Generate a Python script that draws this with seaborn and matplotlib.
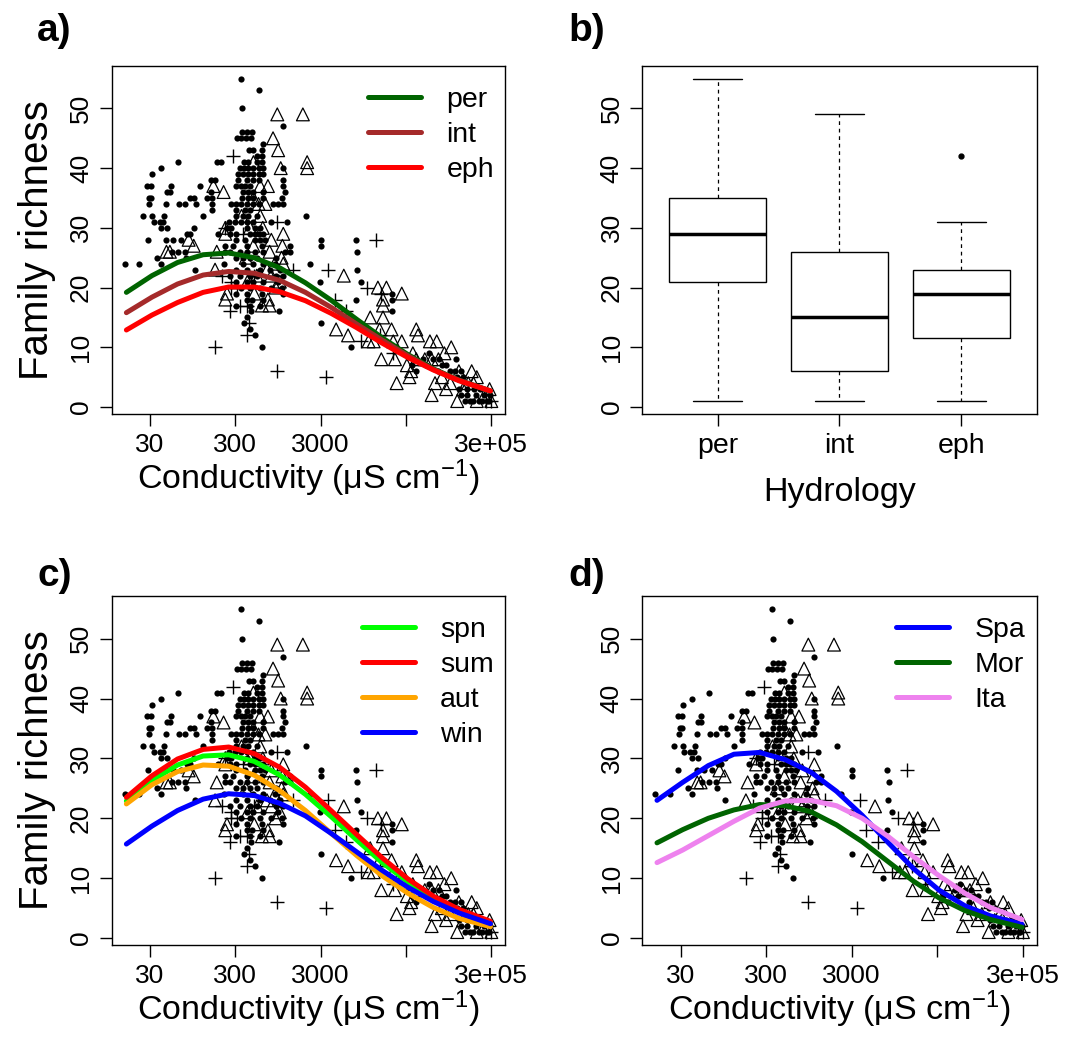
import numpy as np
import pandas as pd
import matplotlib
matplotlib.use("Agg")
import matplotlib.pyplot as plt
from matplotlib.ticker import NullLocator
import seaborn as sns

sns.set_style("white")
plt.rcParams['font.family'] = ['Liberation Sans', 'DejaVu Sans']
plt.rcParams['mathtext.fontset'] = 'custom'
plt.rcParams['mathtext.rm'] = 'Liberation Sans'
plt.rcParams['mathtext.it'] = 'Liberation Sans:italic'
plt.rcParams['mathtext.bf'] = 'Liberation Sans:bold'
for k in ['text.color', 'axes.labelcolor', 'xtick.color', 'ytick.color', 'axes.edgecolor']:
    plt.rcParams[k] = 'black'

# ---------------- data (log10 conductivity, family richness) ----------------
dot_logc = [
    2.54,
    2.75,
    2.56,
    3.04,
    2.56, 2.62, 2.67,
    2.50, 2.55, 2.60, 2.66,
    2.80,
    2.64, 2.69, 2.79,
    2.73, 2.79,
    1.81, 2.26, 2.31, 2.58, 2.63, 2.73, 2.79,
    1.61, 2.53, 2.58, 2.63, 2.69, 2.75, 2.80, 3.04,
    1.50, 2.51, 2.57, 2.63, 2.69, 2.75, 2.80,
    2.19, 2.24, 2.51, 2.61, 2.68, 2.75, 3.04,
    1.44, 1.49, 1.72, 2.06, 2.49, 2.55, 2.59, 2.65, 3.04,
    1.68, 1.71, 2.19, 2.57, 2.63, 2.69, 2.80, 3.06,
    1.47, 1.49, 1.95, 1.99, 2.14, 2.20, 2.56, 2.63, 2.69, 2.80, 3.02,
    1.46, 1.67, 1.82, 1.89, 2.02, 2.20, 2.43, 2.49, 2.55, 2.62, 2.69, 2.75, 2.92, 2.98, 3.04,
    2.20, 2.49, 2.59, 2.65,
    1.40, 1.50, 1.64, 2.10, 2.49, 2.57, 2.63, 2.73, 3.31,
    1.52, 1.59, 1.63, 2.40, 2.47, 2.55, 2.61, 2.69, 2.90, 3.08,
    1.61, 1.68, 1.99, 2.38, 2.43, 2.61, 2.71, 2.77,
    1.91, 1.95, 2.28, 2.41, 2.49, 2.65, 2.71, 2.75, 2.80,
    1.45, 1.67, 1.75, 1.84, 2.49, 2.59, 2.71, 2.77, 2.83, 3.48, 3.89,
    2.36, 2.45, 2.61, 2.79, 3.12, 3.48,
    1.73, 1.81, 1.89, 2.36, 2.41, 2.53, 2.61, 2.71, 2.80, 3.06, 3.12, 3.91,
    1.56, 1.90, 2.49, 2.57, 2.65, 2.73, 2.96,
    1.18, 1.35, 1.61, 2.34, 2.57, 2.69, 2.80, 2.94, 3.35,
    2.00, 2.49, 2.61, 2.77, 2.88, 3.00, 3.90,
    2.41, 2.53, 2.65, 2.73, 2.96, 3.04,
    2.49, 2.61, 2.69, 2.80, 2.98, 3.47, 3.95,
    2.55, 2.65, 2.77, 2.90, 3.02,
    2.49, 2.61, 2.79, 3.04, 4.31,
    2.61, 2.67, 2.80, 3.89, 4.31,
    2.49, 2.65, 2.77,
    2.66, 2.99, 4.31,
    2.61,
    2.58, 3.48,
    2.65,
    2.71,
    2.79, 3.84,
    4.75,
    4.68, 4.80, 4.87, 5.07,
    4.55, 4.72, 4.90, 4.95,
    4.60, 4.85, 5.00, 5.05, 5.12,
    5.08, 5.15,
    5.10, 5.20, 5.28, 5.35,
    5.13, 5.20, 5.30, 5.40, 5.47,
    5.17, 5.23, 5.27, 5.33, 5.37, 5.43, 5.45,
]
dot_rich = (
    [55] + [53] + [50] + [47] + [46] * 3 + [45] * 4 + [44] + [43] * 3 + [42] * 2
    + [41] * 7 + [40] * 8 + [39] * 7 + [38] * 7 + [37] * 9 + [36] * 8 + [35] * 11
    + [34] * 15 + [33] * 4 + [32] * 9 + [31] * 10 + [30] * 8 + [29] * 9 + [28] * 11
    + [27] * 6 + [26] * 12 + [25] * 7 + [24] * 9 + [23] * 7 + [22] * 6 + [21] * 7
    + [20] * 5 + [19] * 5 + [18] * 5 + [17] * 3 + [16] * 3 + [15] + [14] * 2 + [13]
    + [12] + [10] * 2 + [9] + [8] * 4 + [7] * 4 + [6] * 5 + [5] * 2 + [3] * 4
    + [2] * 5 + [1] * 7
)

tri_logc = [
    2.97, 3.27,
    2.92,
    2.98,
    3.32, 2.69,
    3.01, 3.32,
    2.22, 2.77, 2.86,
    2.34,
    2.69,
    2.75, 2.83,
    2.77, 2.55,
    2.36, 2.65, 2.80,
    2.36, 3.04,
    2.90, 1.93,
    3.03, 1.99, 2.69,
    1.67, 1.71, 2.26, 2.88,
    3.02, 2.60,
    2.94, 3.04,
    2.24, 2.85,
    2.73, 2.90, 3.75,
    3.00, 2.62,
    4.15, 4.25, 2.95,
    4.43, 2.38, 2.70,
    4.21, 2.36, 2.86,
    4.21, 2.79, 2.88,
    4.21, 4.06,
    4.17, 4.31, 3.66, 4.60,
    3.80, 4.62,
    4.04, 4.10, 4.33, 4.43, 4.76, 4.84,
    5.01,
    4.93, 4.56,
    4.19, 4.35, 4.60, 4.70, 4.78, 4.86,
    4.49,
    4.54, 5.10, 5.25,
    5.31, 4.52, 4.90,
    4.37, 4.82, 5.00, 5.21, 5.27,
    4.95, 5.15, 5.46,
    4.78, 5.40,
    5.08, 5.31, 5.48,
]
tri_rich = (
    [49] * 2 + [45] + [43] + [41] * 2 + [40] * 2 + [37] * 3 + [36] + [35] + [34] * 2
    + [32] * 2 + [30] * 3 + [29] * 2 + [28] * 2 + [27] * 3 + [26] * 4 + [25] * 2
    + [24] * 2 + [23] * 2 + [22] * 3 + [21] * 2 + [20] * 3 + [19] * 3 + [18] * 3
    + [17] * 3 + [15] * 2 + [13] * 4 + [12] * 2 + [11] * 6 + [10] + [9] * 2 + [8] * 6
    + [7] + [6] * 3 + [5] * 3 + [4] * 5 + [3] * 3 + [2] * 2 + [1] * 3
)

plus_logc = [2.45, 2.97, 2.36, 2.57, 4.13, 3.16, 3.57, 2.32, 2.70, 2.43,
             2.43, 4.02, 2.50, 4.19, 3.65, 2.53, 2.61, 2.41, 3.78, 2.64,
             2.61, 4.18, 3.95, 2.24, 4.33, 2.97, 3.54, 5.48, 5.42]
plus_rich = [42, 31, 30, 29, 28, 23, 23, 22, 22, 21,
             20, 20, 20, 19, 18, 17, 17, 16, 16, 14,
             12, 12, 11, 10, 9, 6, 5, 1, 1]

# fitted curves, read at these log10 conductivities
curve_logc = [1.2, 1.5, 1.8, 2.1, 2.4, 2.7, 3.0, 3.3, 3.6, 3.9, 4.2, 4.5, 4.8, 5.1, 5.47]
per_fit = [19.2, 22.0, 24.2, 25.5, 25.8, 25.0, 23.3, 20.8, 17.9, 14.7, 11.6, 8.8, 6.4, 4.5, 2.7]
int_fit = [15.8, 18.4, 20.6, 22.1, 22.7, 22.4, 21.2, 19.2, 16.7, 13.9, 11.2, 8.6, 6.3, 4.5, 2.7]
eph_fit = [12.9, 15.4, 17.5, 19.2, 20.1, 20.1, 19.3, 17.8, 15.7, 13.3, 10.7, 8.3, 6.2, 4.4, 2.7]
spn_fit = [22.9, 26.3, 28.9, 30.4, 30.6, 29.5, 27.2, 24.0, 20.3, 16.4, 12.6, 9.4, 6.6, 4.5, 2.6]
sum_fit = [23.5, 27.1, 29.9, 31.5, 31.9, 30.8, 28.5, 25.2, 21.3, 17.3, 13.4, 9.9, 7.0, 4.8, 2.8]
aut_fit = [22.4, 25.6, 27.8, 28.9, 28.7, 27.2, 24.6, 21.3, 17.5, 13.8, 10.4, 7.5, 5.1, 3.3, 1.9]
win_fit = [15.7, 18.7, 21.3, 23.2, 24.1, 23.8, 22.5, 20.4, 17.5, 14.4, 11.3, 8.5, 6.1, 4.2, 2.4]
spa_fit = [23.0, 26.0, 28.8, 30.7, 31.0, 29.8, 27.7, 24.5, 20.5, 16.0, 11.6, 8.0, 5.4, 3.7, 2.3]
mor_fit = [15.9, 18.1, 20.0, 21.4, 22.3, 22.1, 21.1, 18.9, 16.1, 12.8, 9.5, 6.7, 4.6, 3.1, 1.8]
ita_fit = [12.6, 14.7, 17.1, 19.5, 21.7, 22.9, 23.0, 22.1, 20.0, 17.0, 13.6, 10.4, 7.5, 5.1, 3.1]

# boxplot panel (values reproducing the box summaries)
hyd_order = ['per', 'int', 'eph']
per_box = [1, 21, 29, 35, 55]
int_box = [1, 6, 15, 26, 49]
eph_box = [1, 5, 11.5, 15, 19, 21, 23, 31, 42]

x_ticks = [30, 300, 3000, 30000, 300000]
x_ticklabels = ['30', '300', '3000', '', '3e+05']
y_ticks = [0, 10, 20, 30, 40, 50]

# ---------------- figure ----------------
fig = plt.figure(figsize=(10.65, 10.37), dpi=100)
axA = fig.add_axes([0.1049, 0.6008, 0.3693, 0.3359])
axB = fig.add_axes([0.6031, 0.6008, 0.3703, 0.3359])
axC = fig.add_axes([0.1049, 0.0887, 0.3693, 0.3368])
axD = fig.add_axes([0.6031, 0.0887, 0.3703, 0.3368])

TICK_FS = 19
LAB_FS = 24.5
YLAB_FS = 29
LEG_FS = 20.5


def style_axes(ax):
    for s in ax.spines.values():
        s.set_visible(True)
        s.set_color('black')
        s.set_linewidth(1.0)
    ax.set_ylim(-1.16, 57.16)
    ax.set_yticks(y_ticks)
    ax.set_yticklabels([str(v) for v in y_ticks])
    ax.tick_params(axis='both', which='major', direction='out', length=8.5, width=1,
                   color='black', labelsize=TICK_FS, labelcolor='black',
                   bottom=True, left=True, top=False, right=False)
    ax.tick_params(axis='x', pad=5.5)
    ax.tick_params(axis='y', pad=5, labelrotation=90)
    for lab in ax.get_yticklabels():
        lab.set_va('center')
    ax.grid(False)


def scatter_panel(ax):
    sns.scatterplot(x=10 ** np.array(dot_logc), y=dot_rich, s=20, color='black',
                    linewidth=0, ax=ax, legend=False, zorder=2)
    sns.scatterplot(x=10 ** np.array(tri_logc), y=tri_rich, marker='^', s=85,
                    color='black', linewidth=0.9, ax=ax, legend=False, zorder=2)
    ax.collections[-1].set_facecolor('none')
    ax.collections[-1].set_edgecolor('black')
    sns.scatterplot(x=10 ** np.array(plus_logc), y=plus_rich, marker='+', s=90,
                    color='black', linewidth=1.0, ax=ax, legend=False, zorder=2)
    ax.collections[-1].set_edgecolor('black')
    ax.set_xscale('log')
    ax.set_xlim(10 ** 1.028, 10 ** 5.641)
    ax.set_xticks(x_ticks)
    ax.set_xticklabels(x_ticklabels)
    ax.xaxis.set_minor_locator(NullLocator())
    ax.set_xlabel('Conductivity (μS cm$^{-1}$)', fontsize=LAB_FS, labelpad=0)


def curves(ax, series, legend_xy):
    handles = []
    for vals, col, lab in series:
        sns.lineplot(x=10 ** np.array(curve_logc), y=vals, color=col, linewidth=3.6,
                     ax=ax, label=lab, legend=False, zorder=3,
                     solid_capstyle='round', solid_joinstyle='round')
        handles.append(ax.lines[-1])
    ax.legend(handles=handles, labels=[s[2] for s in series], loc='upper left',
              bbox_to_anchor=legend_xy, frameon=False, fontsize=LEG_FS,
              handlelength=1.85, handletextpad=0.9, labelspacing=0.31,
              borderpad=0, borderaxespad=0)


# panel a
scatter_panel(axA)
curves(axA, [(per_fit, '#006400', 'per'), (int_fit, '#A52A2A', 'int'),
             (eph_fit, '#FF0000', 'eph')], (0.652, 0.938))
axA.set_ylabel('Family richness', fontsize=YLAB_FS, labelpad=9)
style_axes(axA)

# panel c
scatter_panel(axC)
curves(axC, [(spn_fit, '#00FF00', 'spn'), (sum_fit, '#FF0000', 'sum'),
             (aut_fit, '#FFA500', 'aut'), (win_fit, '#0000FF', 'win')], (0.636, 0.938))
axC.set_ylabel('Family richness', fontsize=YLAB_FS, labelpad=9)
style_axes(axC)

# panel d
scatter_panel(axD)
curves(axD, [(spa_fit, '#0000FF', 'Spa'), (mor_fit, '#006400', 'Mor'),
             (ita_fit, '#EE82EE', 'Ita')], (0.643, 0.938))
axD.set_ylabel('')
style_axes(axD)

# panel b
dfb = pd.DataFrame({
    'hydrology': ['per'] * len(per_box) + ['int'] * len(int_box) + ['eph'] * len(eph_box),
    'richness': per_box + int_box + eph_box,
})
sns.boxplot(data=dfb, x='hydrology', y='richness', order=hyd_order, color='white',
            linecolor='black', linewidth=1.0, width=0.8, ax=axB, fliersize=3.5,
            whiskerprops=dict(linestyle=(0, (3, 3)), linewidth=0.9),
            medianprops=dict(linewidth=2.5, color='black'),
            flierprops=dict(marker='o', markerfacecolor='black', markeredgecolor='black'),
            capprops=dict(linewidth=1.0))
axB.set_xlim(-0.62, 2.62)
axB.set_xlabel('Hydrology', fontsize=LAB_FS, labelpad=13)
axB.set_ylabel('')
style_axes(axB)
axB.tick_params(axis='x', labelsize=LEG_FS)

# panel letters
for txt, x, y in [('a)', 0.035, 0.970), ('b)', 0.534, 0.970),
                  ('c)', 0.035, 0.445), ('d)', 0.534, 0.445)]:
    fig.text(x, y, txt, fontsize=28, fontweight='bold', ha='left', va='center')

fig.savefig('out.png', dpi=100)
